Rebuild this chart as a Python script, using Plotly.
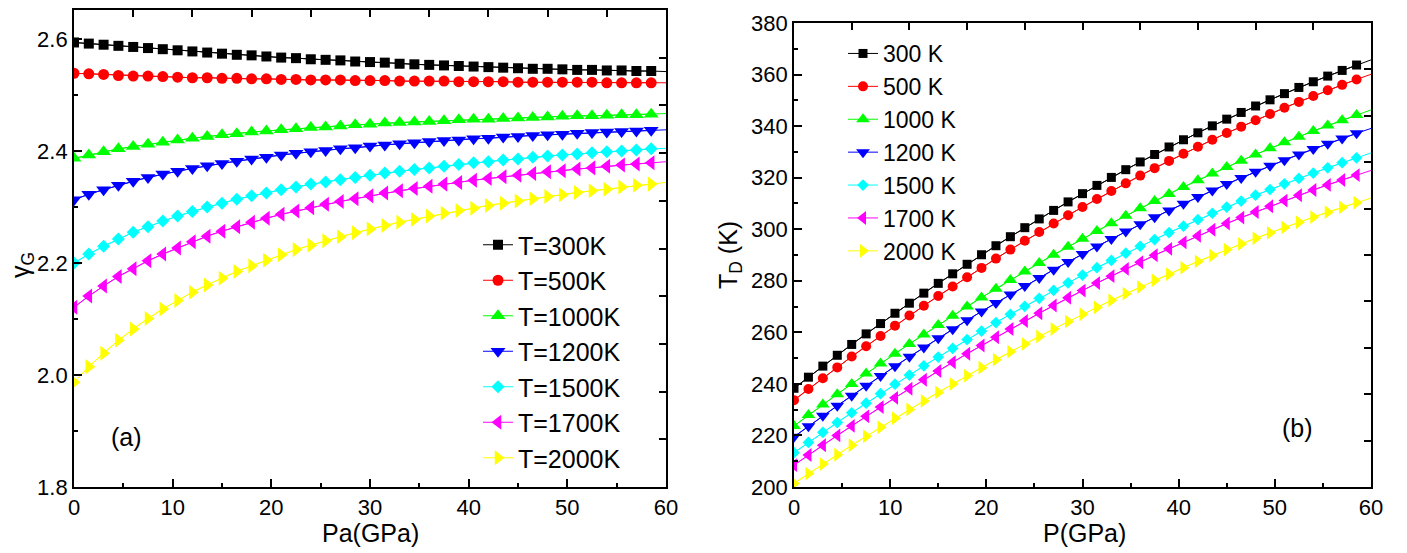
import plotly.graph_objects as go

# Pressure grid (GPa) shared by both panels
pressure = [0, 1.5, 3, 4.5, 6, 7.5, 9, 10.5, 12, 13.5, 15, 16.5, 18, 19.5, 21, 22.5, 24, 25.5, 27, 28.5,
            30, 31.5, 33, 34.5, 36, 37.5, 39, 40.5, 42, 43.5, 45, 46.5, 48, 49.5, 51, 52.5, 54, 55.5, 57, 58.5, 60]

# (a) Grüneisen parameter
gamma_300 = [2.594, 2.592, 2.590, 2.588, 2.586, 2.584, 2.582, 2.580, 2.578, 2.576, 2.574, 2.572, 2.571, 2.569,
             2.567, 2.566, 2.564, 2.563, 2.562, 2.560, 2.559, 2.558, 2.556, 2.555, 2.554, 2.553, 2.552, 2.551,
             2.550, 2.549, 2.548, 2.547, 2.547, 2.546, 2.545, 2.545, 2.544, 2.544, 2.543, 2.543, 2.542]
gamma_500 = [2.539, 2.538, 2.537, 2.535, 2.534, 2.534, 2.533, 2.532, 2.531, 2.531, 2.530, 2.530, 2.529, 2.529,
             2.528, 2.528, 2.527, 2.527, 2.527, 2.526, 2.526, 2.526, 2.525, 2.525, 2.525, 2.525, 2.524, 2.524,
             2.524, 2.524, 2.523, 2.523, 2.523, 2.523, 2.523, 2.523, 2.522, 2.522, 2.522, 2.522, 2.522]
gamma_1000 = [2.387, 2.393, 2.399, 2.404, 2.408, 2.412, 2.416, 2.420, 2.423, 2.426, 2.429, 2.431, 2.434, 2.436,
              2.438, 2.440, 2.442, 2.443, 2.445, 2.447, 2.448, 2.450, 2.451, 2.452, 2.453, 2.454, 2.456, 2.457,
              2.457, 2.458, 2.459, 2.460, 2.461, 2.462, 2.463, 2.463, 2.464, 2.465, 2.465, 2.466, 2.467]
gamma_1200 = [2.313, 2.323, 2.331, 2.339, 2.346, 2.353, 2.359, 2.364, 2.369, 2.374, 2.378, 2.382, 2.386, 2.389,
              2.393, 2.396, 2.399, 2.401, 2.404, 2.406, 2.409, 2.411, 2.413, 2.415, 2.417, 2.419, 2.420, 2.422,
              2.423, 2.425, 2.426, 2.428, 2.429, 2.430, 2.432, 2.433, 2.434, 2.435, 2.436, 2.437, 2.438]
gamma_1500 = [2.200, 2.216, 2.230, 2.243, 2.255, 2.265, 2.275, 2.284, 2.292, 2.300, 2.307, 2.314, 2.320, 2.325,
              2.331, 2.336, 2.341, 2.345, 2.349, 2.353, 2.357, 2.361, 2.364, 2.367, 2.370, 2.373, 2.376, 2.379,
              2.381, 2.384, 2.386, 2.389, 2.391, 2.393, 2.395, 2.397, 2.399, 2.400, 2.402, 2.404, 2.405]
gamma_1700 = [2.121, 2.141, 2.159, 2.176, 2.190, 2.204, 2.216, 2.227, 2.238, 2.248, 2.257, 2.265, 2.273, 2.280,
              2.287, 2.293, 2.299, 2.305, 2.310, 2.315, 2.320, 2.325, 2.329, 2.333, 2.337, 2.341, 2.344, 2.348,
              2.351, 2.354, 2.357, 2.360, 2.363, 2.365, 2.368, 2.370, 2.373, 2.375, 2.377, 2.379, 2.381]
gamma_2000 = [1.987, 2.015, 2.039, 2.062, 2.082, 2.101, 2.118, 2.133, 2.148, 2.161, 2.173, 2.185, 2.195, 2.205,
              2.215, 2.224, 2.232, 2.240, 2.247, 2.254, 2.261, 2.267, 2.273, 2.278, 2.284, 2.289, 2.294, 2.298,
              2.303, 2.307, 2.311, 2.315, 2.319, 2.322, 2.326, 2.329, 2.332, 2.336, 2.339, 2.341, 2.344]

# (b) Debye temperature (K)
td_300 = [238.3, 242.6, 246.9, 251.1, 255.3, 259.4, 263.4, 267.4, 271.3, 275.2, 279.0, 282.7, 286.4, 290.1,
          293.6, 297.1, 300.6, 304.0, 307.3, 310.6, 313.8, 317.0, 320.1, 323.1, 326.1, 329.0, 331.9, 334.7,
          337.4, 340.1, 342.7, 345.3, 347.8, 350.2, 352.6, 355.0, 357.2, 359.4, 361.6, 363.7, 365.7]
td_500 = [233.7, 238.0, 242.2, 246.4, 250.6, 254.6, 258.6, 262.6, 266.5, 270.3, 274.1, 277.8, 281.4, 285.0,
          288.6, 292.1, 295.5, 298.9, 302.2, 305.4, 308.6, 311.7, 314.8, 317.8, 320.8, 323.7, 326.5, 329.3,
          332.0, 334.7, 337.3, 339.8, 342.3, 344.7, 347.1, 349.4, 351.7, 353.9, 356.0, 358.1, 360.1]
td_1000 = [223.7, 227.9, 232.0, 236.0, 240.0, 244.0, 247.9, 251.7, 255.5, 259.2, 262.8, 266.4, 270.0, 273.5,
           276.9, 280.3, 283.6, 286.9, 290.1, 293.2, 296.3, 299.3, 302.3, 305.2, 308.1, 310.9, 313.7, 316.4,
           319.0, 321.6, 324.1, 326.6, 329.0, 331.4, 333.7, 335.9, 338.1, 340.2, 342.3, 344.3, 346.3]
td_1200 = [219.5, 223.6, 227.6, 231.5, 235.4, 239.3, 243.1, 246.8, 250.5, 254.1, 257.7, 261.2, 264.7, 268.1,
           271.4, 274.7, 278.0, 281.1, 284.3, 287.3, 290.4, 293.3, 296.2, 299.1, 301.9, 304.6, 307.3, 309.9,
           312.5, 315.0, 317.5, 319.9, 322.3, 324.6, 326.8, 329.0, 331.1, 333.2, 335.2, 337.2, 339.1]
td_1500 = [213.3, 217.3, 221.2, 225.0, 228.8, 232.5, 236.2, 239.9, 243.4, 247.0, 250.4, 253.8, 257.2, 260.5,
           263.8, 267.0, 270.1, 273.2, 276.3, 279.2, 282.2, 285.1, 287.9, 290.7, 293.4, 296.0, 298.7, 301.2,
           303.7, 306.2, 308.6, 310.9, 313.2, 315.4, 317.6, 319.7, 321.8, 323.8, 325.8, 327.7, 329.6]
td_1700 = [208.5, 212.4, 216.2, 220.0, 223.7, 227.4, 231.0, 234.6, 238.1, 241.6, 245.0, 248.4, 251.7, 254.9,
           258.1, 261.3, 264.4, 267.4, 270.4, 273.4, 276.2, 279.1, 281.8, 284.6, 287.2, 289.9, 292.4, 294.9,
           297.4, 299.8, 302.2, 304.5, 306.7, 308.9, 311.1, 313.2, 315.2, 317.2, 319.1, 321.0, 322.8]
td_2000 = [201.4, 205.2, 208.9, 212.5, 216.2, 219.7, 223.2, 226.7, 230.1, 233.4, 236.7, 240.0, 243.2, 246.3,
           249.4, 252.5, 255.5, 258.4, 261.3, 264.2, 267.0, 269.7, 272.4, 275.0, 277.6, 280.2, 282.6, 285.1,
           287.5, 289.8, 292.1, 294.3, 296.5, 298.6, 300.7, 302.7, 304.7, 306.6, 308.5, 310.3, 312.1]

labels_a = ["T=300K", "T=500K", "T=1000K", "T=1200K", "T=1500K", "T=1700K", "T=2000K"]
labels_b = ["300 K", "500 K", "1000 K", "1200 K", "1500 K", "1700 K", "2000 K"]
gamma_series = [gamma_300, gamma_500, gamma_1000, gamma_1200, gamma_1500, gamma_1700, gamma_2000]
td_series = [td_300, td_500, td_1000, td_1200, td_1500, td_1700, td_2000]

colors = ["#000000", "#FF0000", "#00FF00", "#0000FF", "#00FFFF", "#FF00FF", "#FFFF00"]
symbols = ["square", "circle", "triangle-up", "triangle-down", "diamond", "triangle-left", "triangle-right"]
sizes_a = [10, 11, 13, 13, 10, 13, 13]
sizes_b = [9, 10, 12, 12, 9, 12, 12]

W, H = 1407, 553
fig = go.Figure()

n_mark = len(pressure) - 1  # markers every 1.5 GPa up to 58.5; line continues to 60

for i in range(7):
    fig.add_trace(go.Scatter(x=pressure, y=gamma_series[i], mode="lines",
                             line=dict(color=colors[i], width=1), showlegend=False,
                             xaxis="x", yaxis="y", hoverinfo="skip"))
    fig.add_trace(go.Scatter(x=pressure[:n_mark], y=gamma_series[i][:n_mark], mode="lines+markers",
                             name=labels_a[i], legend="legend",
                             line=dict(color=colors[i], width=1),
                             marker=dict(symbol=symbols[i], size=sizes_a[i], color=colors[i], line=dict(width=0)),
                             xaxis="x", yaxis="y"))
    fig.add_trace(go.Scatter(x=pressure, y=td_series[i], mode="lines",
                             line=dict(color=colors[i], width=1), showlegend=False,
                             xaxis="x2", yaxis="y2", hoverinfo="skip"))
    fig.add_trace(go.Scatter(x=pressure[:n_mark], y=td_series[i][:n_mark], mode="lines+markers",
                             name=labels_b[i], legend="legend2",
                             line=dict(color=colors[i], width=1),
                             marker=dict(symbol=symbols[i], size=sizes_b[i], color=colors[i], line=dict(width=0)),
                             xaxis="x2", yaxis="y2"))

# invisible carriers so the top/right frame axes are drawn
for xa, ya in (("x3", "y3"), ("x4", "y4")):
    fig.add_trace(go.Scatter(x=[5], y=[5], mode="markers", marker=dict(opacity=0, size=1),
                             showlegend=False, hoverinfo="skip", xaxis=xa, yaxis=ya))

FONT = "Arial, Liberation Sans, sans-serif"
tickfont = dict(family=FONT, size=22, color="black")

def main_axis(**kw):
    d = dict(showline=True, linecolor="black", linewidth=1.8, ticks="inside", ticklen=8, tickwidth=1.5,
             tickcolor="black", showgrid=False, zeroline=False, tickfont=tickfont, mirror=False,
             automargin=False)
    d.update(kw)
    return d

def frame_axis(**kw):
    d = dict(showline=True, linecolor="black", linewidth=1.8, ticks="inside", ticklen=7, tickwidth=1.5,
             tickcolor="black", showgrid=False, zeroline=False, showticklabels=False,
             range=[0, 10], tick0=0, dtick=1, automargin=False)
    d.update(kw)
    return d

ya_dom = [1 - 487 / H, 1 - 10 / H]
yb_dom = [1 - 487 / H, 1 - 23 / H]
xa_dom = [74 / W, 666 / W]
xb_dom = [794 / W, 1371 / W]

ann_font = dict(family=FONT, size=25, color="black")

fig.update_layout(
    width=W, height=H, autosize=False, margin=dict(l=0, r=0, t=0, b=0, pad=0, autoexpand=False),
    paper_bgcolor="white", plot_bgcolor="white",
    font=dict(family=FONT, color="black"),
    xaxis=main_axis(domain=xa_dom, range=[0, 60], tick0=0, dtick=10, anchor="y",
                    minor=dict(dtick=5, ticks="inside", ticklen=4, tickwidth=1.5, tickcolor="black")),
    yaxis=main_axis(domain=ya_dom, range=[1.8, 2.652], tick0=1.8, dtick=0.2, tickformat=".1f", anchor="x",
                    minor=dict(dtick=0.1, ticks="inside", ticklen=4, tickwidth=1.5, tickcolor="black")),
    xaxis3=frame_axis(domain=xa_dom, overlaying="x", side="top", anchor="y"),
    yaxis3=frame_axis(domain=ya_dom, overlaying="y", side="right", anchor="x"),
    xaxis2=main_axis(domain=xb_dom, range=[0, 60], tick0=0, dtick=10, anchor="y2",
                     minor=dict(dtick=5, ticks="inside", ticklen=4, tickwidth=1.5, tickcolor="black")),
    yaxis2=main_axis(domain=yb_dom, range=[200, 380], tick0=200, dtick=20, anchor="x2",
                     minor=dict(dtick=10, ticks="inside", ticklen=4, tickwidth=1.5, tickcolor="black")),
    xaxis4=frame_axis(domain=xb_dom, overlaying="x2", side="top", anchor="y2"),
    yaxis4=frame_axis(domain=yb_dom, overlaying="y2", side="right", anchor="x2"),
    legend=dict(x=478 / W, y=1 - 222 / H, xanchor="left", yanchor="top", bgcolor="rgba(0,0,0,0)",
                font=dict(family=FONT, size=25, color="black"), borderwidth=0),
    legend2=dict(x=843 / W, y=1 - 32 / H, xanchor="left", yanchor="top", bgcolor="rgba(0,0,0,0)",
                 font=dict(family=FONT, size=23, color="black"), borderwidth=0),
    annotations=[
        dict(text="(a)", x=5.3, y=1.89, xref="x", yref="y", showarrow=False,
             xanchor="center", yanchor="middle", font=ann_font),
        dict(text="(b)", x=52.4, y=222.9, xref="x2", yref="y2", showarrow=False,
             xanchor="center", yanchor="middle", font=ann_font),
        dict(text="Pa(GPa)", x=370 / W, y=1 - 533 / H, xref="paper", yref="paper", showarrow=False,
             xanchor="center", yanchor="middle", font=ann_font),
        dict(text="P(GPa)", x=1084 / W, y=1 - 533 / H, xref="paper", yref="paper", showarrow=False,
             xanchor="center", yanchor="middle", font=ann_font),
        dict(text="γ<sub>G</sub>", x=22 / W, y=1 - 265 / H, xref="paper", yref="paper", showarrow=False,
             xanchor="center", yanchor="middle", textangle=-90, font=ann_font),
        dict(text="T<sub>D</sub> (K)", x=730 / W, y=1 - 255 / H, xref="paper", yref="paper", showarrow=False,
             xanchor="center", yanchor="middle", textangle=-90, font=ann_font),
    ],
)

fig.write_html("out.html", config=dict(responsive=False, displayModeBar=False),
               post_script="document.body.style.margin='0';document.body.style.overflow='hidden';")
